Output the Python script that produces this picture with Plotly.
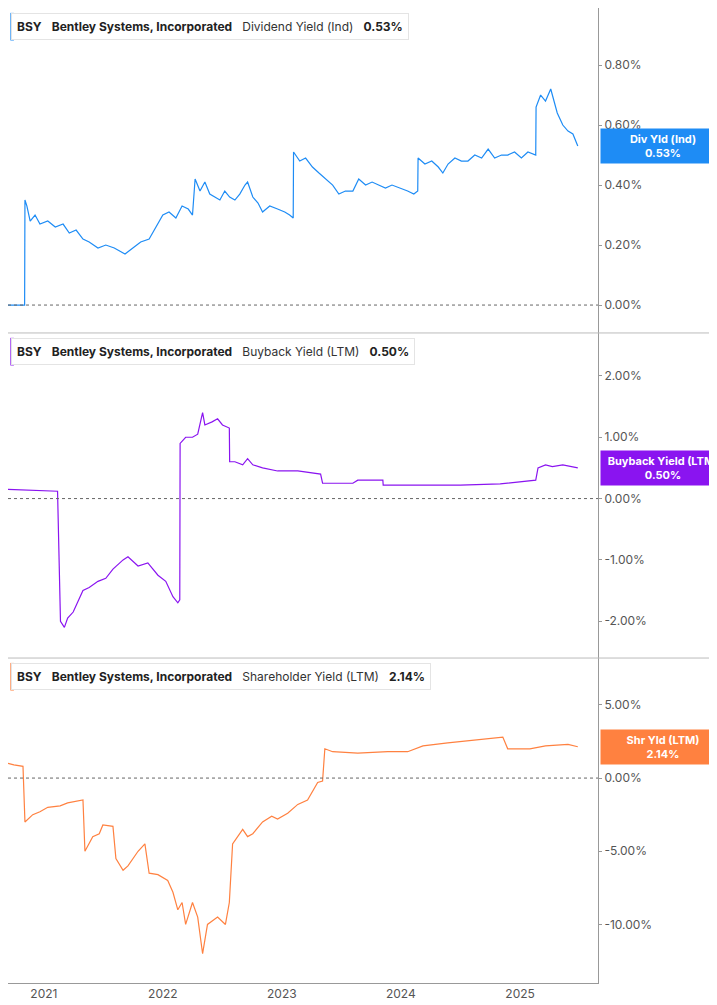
import plotly.graph_objects as go

# dividend yield (%)
div_dates = ["2020-09-13", "2020-11-03", "2020-11-04", "2020-11-10", "2020-11-20", "2020-12-05", "2020-12-20",
             "2021-01-13", "2021-02-05", "2021-03-01", "2021-03-20", "2021-04-10", "2021-05-01", "2021-05-20",
             "2021-06-16", "2021-07-10", "2021-08-05", "2021-09-07", "2021-10-01", "2021-10-25", "2021-11-20",
             "2021-12-10", "2022-01-01", "2022-01-20", "2022-02-10", "2022-03-01", "2022-03-20", "2022-04-02",
             "2022-04-10", "2022-04-25", "2022-05-10", "2022-05-25", "2022-06-10", "2022-06-25", "2022-07-10",
             "2022-07-25", "2022-08-10", "2022-08-25", "2022-09-10", "2022-09-18", "2022-10-04", "2022-10-20",
             "2022-11-03", "2022-11-25", "2022-12-19", "2023-01-10", "2023-01-25", "2023-02-05", "2023-02-06",
             "2023-02-25", "2023-03-15", "2023-04-05", "2023-04-25", "2023-05-15", "2023-06-06", "2023-06-25",
             "2023-07-15", "2023-08-07", "2023-08-25", "2023-09-15", "2023-10-05", "2023-10-25", "2023-11-15",
             "2023-12-05", "2024-01-01", "2024-01-22", "2024-02-10", "2024-02-22", "2024-02-23", "2024-03-15",
             "2024-04-05", "2024-04-25", "2024-05-09", "2024-05-25", "2024-06-15", "2024-07-05", "2024-07-25",
             "2024-08-15", "2024-09-05", "2024-09-25", "2024-10-15", "2024-11-05", "2024-11-24", "2024-12-15",
             "2025-01-05", "2025-01-25", "2025-02-18", "2025-02-19", "2025-03-05", "2025-03-20", "2025-04-05",
             "2025-04-15", "2025-04-25", "2025-05-12", "2025-05-28", "2025-06-12", "2025-06-27"]
div_vals = [0.00, 0.00, 0.35, 0.33, 0.28, 0.30, 0.27,
            0.28, 0.26, 0.27, 0.24, 0.25, 0.22, 0.21,
            0.19, 0.20, 0.19, 0.17, 0.19, 0.21, 0.22,
            0.26, 0.30, 0.31, 0.29, 0.33, 0.32, 0.30,
            0.42, 0.38, 0.41, 0.37, 0.36, 0.35, 0.38,
            0.36, 0.35, 0.37, 0.40, 0.41, 0.36, 0.34,
            0.31, 0.33, 0.32, 0.31, 0.30, 0.29, 0.51,
            0.48, 0.49, 0.46, 0.44, 0.42, 0.40, 0.37,
            0.38, 0.38, 0.42, 0.40, 0.41, 0.40, 0.39,
            0.40, 0.39, 0.38, 0.37, 0.38, 0.49, 0.47,
            0.48, 0.46, 0.44, 0.47, 0.49, 0.48, 0.48,
            0.50, 0.49, 0.52, 0.49, 0.50, 0.50, 0.51,
            0.49, 0.51, 0.50, 0.66, 0.70, 0.68, 0.72,
            0.68, 0.64, 0.60, 0.58, 0.57, 0.53]

# buyback yield (%)
bb_dates = ["2020-09-13", "2020-12-01", "2021-02-12", "2021-02-21", "2021-03-05", "2021-03-15", "2021-04-01",
            "2021-05-01", "2021-05-20", "2021-06-16", "2021-07-10", "2021-08-01", "2021-09-01", "2021-09-16",
            "2021-10-17", "2021-11-16", "2021-12-17", "2022-01-10", "2022-02-01", "2022-02-16", "2022-02-22",
            "2022-02-23", "2022-03-12", "2022-04-02", "2022-04-18", "2022-05-03", "2022-05-10", "2022-06-01",
            "2022-06-18", "2022-07-03", "2022-07-24", "2022-07-25", "2022-08-10", "2022-09-03", "2022-09-18",
            "2022-10-04", "2022-11-03", "2022-12-19", "2023-02-19", "2023-04-30", "2023-05-06", "2023-06-15",
            "2023-08-07", "2023-08-22", "2023-11-07", "2023-11-08", "2024-03-01", "2024-07-01", "2024-11-01",
            "2025-02-18", "2025-02-25", "2025-03-20", "2025-04-10", "2025-05-12", "2025-06-27"]
bb_vals = [0.15, 0.14, 0.12, -2.00, -2.10, -1.95, -1.85,
           -1.50, -1.45, -1.35, -1.30, -1.15, -1.00, -0.95,
           -1.10, -1.05, -1.25, -1.35, -1.60, -1.70, -1.65,
           0.90, 1.00, 1.00, 1.05, 1.40, 1.20, 1.25,
           1.30, 1.20, 1.15, 0.60, 0.60, 0.55, 0.65,
           0.55, 0.50, 0.45, 0.45, 0.40, 0.25, 0.25,
           0.25, 0.30, 0.30, 0.22, 0.22, 0.22, 0.24,
           0.30, 0.50, 0.55, 0.52, 0.55, 0.50]

# shareholder yield (%)
sh_dates = ["2020-09-13", "2020-10-01", "2020-10-29", "2020-11-04", "2020-11-28", "2020-12-20", "2021-01-13",
            "2021-02-20", "2021-03-15", "2021-04-10", "2021-05-01", "2021-05-07", "2021-05-31", "2021-06-20",
            "2021-07-01", "2021-08-01", "2021-08-10", "2021-09-01", "2021-09-16", "2021-10-17", "2021-11-07",
            "2021-11-20", "2021-12-17", "2022-01-16", "2022-02-01", "2022-02-16", "2022-03-01", "2022-03-12",
            "2022-04-02", "2022-04-18", "2022-05-03", "2022-05-18", "2022-06-18", "2022-07-12", "2022-07-24",
            "2022-08-03", "2022-09-03", "2022-09-18", "2022-10-04", "2022-11-03", "2022-12-01", "2022-12-19",
            "2023-01-19", "2023-02-19", "2023-03-21", "2023-04-21", "2023-05-06", "2023-05-13", "2023-06-06",
            "2023-08-22", "2023-11-22", "2024-01-22", "2024-03-09", "2024-05-24", "2024-08-24", "2024-11-09",
            "2024-11-24", "2025-01-31", "2025-03-20", "2025-05-12", "2025-05-28", "2025-06-27"]
sh_vals = [1.0, 0.9, 0.8, -3.0, -2.5, -2.3, -2.0,
           -1.9, -1.7, -1.6, -1.5, -5.0, -4.0, -3.8,
           -3.2, -3.3, -5.5, -6.3, -6.0, -5.0, -4.5,
           -6.5, -6.6, -7.0, -7.8, -9.0, -8.5, -10.0,
           -8.5, -9.5, -12.0, -10.0, -9.5, -10.0, -8.5,
           -4.5, -3.5, -4.0, -3.8, -3.0, -2.6, -2.8,
           -2.4, -1.8, -1.5, -0.3, -0.2, 2.0, 1.8,
           1.7, 1.8, 1.8, 2.2, 2.4, 2.6, 2.8,
           2.0, 2.0, 2.2, 2.3, 2.3, 2.14]

BLUE = "#1E8CF5"
PURPLE = "#8A14F0"
ORANGE = "#FF8140"
FONT = "Inter"

panels = [
    (div_dates, div_vals, BLUE, [-0.093, 0.99], [0, 0.2, 0.4, 0.6, 0.8], "Dividend Yield (Ind)", "0.53%", "Div Yld (Ind)", 0.53),
    (bb_dates, bb_vals, PURPLE, [-2.6, 2.7], [-2, -1, 0, 1, 2], "Buyback Yield (LTM)", "0.50%", "Buyback Yield (LTM)", 0.50),
    (sh_dates, sh_vals, ORANGE, [-14.0, 8.2], [-10, -5, 0, 5], "Shareholder Yield (LTM)", "2.14%", "Shr Yld (LTM)", 2.14),
]
domains = [[0.6667, 1.0], [0.3333, 0.6667], [0.0, 0.3333]]

fig = go.Figure()
shapes = []
annotations = []
for i, (xs, ys, color, yr, ticks, name, last_txt, box_txt, last) in enumerate(panels):
    n = i + 1
    xa = "x" if n == 1 else "x%d" % n
    ya = "y" if n == 1 else "y%d" % n
    fig.add_trace(go.Scatter(x=xs, y=ys, mode="lines", line=dict(color=color, width=1.2),
                             xaxis=xa, yaxis=ya, showlegend=False, hoverinfo="skip"))
    fig.layout["xaxis" if n == 1 else "xaxis%d" % n] = dict(
        domain=[0, 1], range=["2020-09-13", "2025-08-28"], anchor=ya, automargin=False,
        showgrid=False, zeroline=False, showline=(n == 3), linecolor="#999",
        showticklabels=(n == 3), dtick="M12", tickformat="%Y", ticks="",
        tickfont=dict(family=FONT, size=12, color="#555"))
    fig.layout["yaxis" if n == 1 else "yaxis%d" % n] = dict(
        domain=domains[i], range=yr, anchor=xa, side="right", automargin=False,
        tickvals=ticks, ticktext=["%.2f%%" % t for t in ticks],
        showgrid=False, zeroline=False, showline=True, linecolor="#999",
        ticks="outside", ticklen=3, tickcolor="#999",
        tickfont=dict(family=FONT, size=12, color="#555"))
    # dotted zero line
    shapes.append(dict(type="line", xref=xa + " domain", yref=ya, x0=0, x1=1, y0=0, y1=0,
                       line=dict(color="#666", width=1, dash="dot")))
    # panel separator across full width
    if n < 3:
        shapes.append(dict(type="line", xref="paper", yref="paper", x0=0, x1=1.22,
                           y0=domains[i][0], y1=domains[i][0], line=dict(color="#bbb", width=1)))
    # title box
    annotations.append(dict(
        xref="paper", yref=ya + " domain", x=0.005, y=0.985, xanchor="left", yanchor="top",
        text="<b>BSY</b>   <b>Bentley Systems, Incorporated</b>   <span style='color:#333'>%s</span>   <b>%s</b>" % (name, last_txt),
        showarrow=False, align="left", font=dict(family=FONT, size=12, color="#222"),
        bgcolor="white", bordercolor="#e4e4e4", borderwidth=1, borderpad=5))
    shapes.append(dict(type="rect", xref="paper", yref=ya + " domain", x0=0.004, x1=0.01,
                       y0=0.9, y1=0.985, fillcolor=color, line=dict(width=0)))
    # last value box
    annotations.append(dict(
        xref="paper", yref=ya, x=1.003, y=last, xanchor="left", yanchor="middle",
        text="<b>%s<br>%s</b>" % (box_txt, last_txt), showarrow=False,
        font=dict(family=FONT, size=11, color="white"), bgcolor=color, width=118, borderpad=3))

fig.update_layout(width=717, height=1005, margin=dict(l=0, r=127, t=0, b=30, autoexpand=False),
                  plot_bgcolor="white", paper_bgcolor="white",
                  shapes=shapes, annotations=annotations)
fig.write_html("out.html")
